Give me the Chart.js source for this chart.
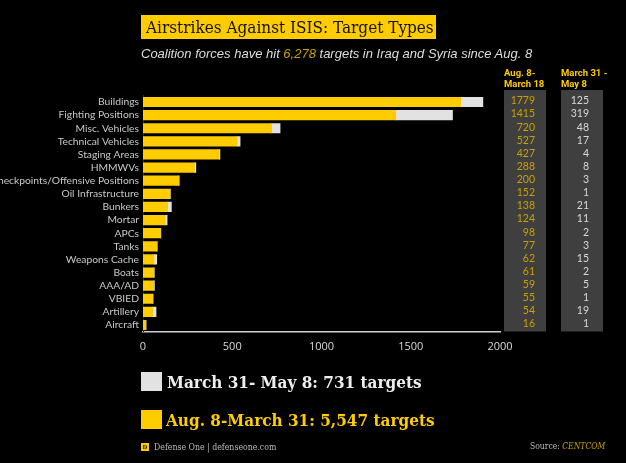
<!DOCTYPE html>
<html><head><meta charset="utf-8">
<style>
html,body{margin:0;padding:0;background:#000;width:626px;height:463px;overflow:hidden}
#c{position:absolute;left:0;top:0;width:626px;height:463px}
.t{position:absolute;white-space:nowrap;line-height:1}
.sq{position:absolute}
</style></head><body>
<canvas id="c" width="626" height="463"></canvas>
<div class="sq" style="left:141px;top:15px;width:295px;height:24px;background:#ffcc00"></div>
<div class="t" style="left:146px;top:17px;font:400 17px/20px 'DejaVu Serif Condensed','DejaVu Serif';color:#111">Airstrikes Against ISIS: Target Types</div>
<div class="t" style="left:141px;top:46px;font:italic 400 13px/15px 'Liberation Sans';color:#ddd">Coalition forces have hit <span style="color:#c9a000">6,278</span> targets in Iraq and Syria since Aug. 8</div>
<div class="t" style="left:504px;top:68px;font:700 9.5px/10.5px Roboto;color:#ffcc00">Aug. 8-<br>March 18</div>
<div class="t" style="left:561px;top:68px;font:700 9.5px/10.5px Roboto;color:#ffcc00">March 31 -<br>May 8</div>
<div class="sq" style="left:141px;top:372px;width:21px;height:19px;background:#e2e2e2"></div>
<div class="t" style="left:167px;top:372px;font:700 17px/20px 'DejaVu Serif Condensed','DejaVu Serif';color:#eee">March 31- May 8: 731 targets</div>
<div class="sq" style="left:141px;top:410px;width:21px;height:19px;background:#ffcc00"></div>
<div class="t" style="left:166px;top:410px;font:700 17px/20px 'DejaVu Serif Condensed','DejaVu Serif';color:#ffcc00">Aug. 8-March 31: 5,547 targets</div>
<div class="sq" style="left:141px;top:443px;width:8px;height:8px;background:#ffcc00"></div>
<div class="t" style="left:141px;top:443px;width:8px;text-align:center;font:700 5.5px/8px 'DejaVu Serif';color:#111">D</div>
<div class="t" style="left:154px;top:441px;font:400 8.7px/12px 'DejaVu Serif Condensed','DejaVu Serif';color:#bbb">Defense One | defenseone.com</div>
<div class="t" style="left:530px;top:440px;font:400 8.5px/12px 'DejaVu Serif Condensed','DejaVu Serif';color:#bbb">Source: <i style="color:#c9a000">CENTCOM</i></div>
<script src="https://cdn.jsdelivr.net/npm/chart.js@4/dist/chart.umd.min.js"></script>
<script>
const categories=["Buildings","Fighting Positions","Misc. Vehicles","Technical Vehicles","Staging Areas","HMMWVs","Checkpoints/Offensive Positions","Oil Infrastructure","Bunkers","Mortar","APCs","Tanks","Weapons Cache","Boats","AAA/AD","VBIED","Artillery","Aircraft"];
const firstPeriod=[1779,1415,720,527,427,288,200,152,138,124,98,77,62,61,59,55,54,16];
const secondPeriod=[125,319,48,17,4,8,3,1,21,11,2,3,15,2,5,1,19,1];
const xTicks=[0,500,1000,1500,2000];

const columnsPlugin={
  id:'columns',
  beforeDatasetsDraw(chart){
    const ctx=chart.ctx;
    ctx.save();
    ctx.fillStyle='#3f3f3f';
    ctx.fillRect(504,90,42,241.5);
    ctx.fillRect(561,90,42,241.5);
    ctx.restore();
  },
  afterDraw(chart){
    const ctx=chart.ctx,y=chart.scales.y;
    ctx.save();
    ctx.font="400 10.5px Lato";
    ctx.textAlign='right';
    ctx.textBaseline='middle';
    categories.forEach((c,i)=>{
      const py=y.getPixelForValue(i)-1;
      ctx.fillStyle='#c9a000';
      ctx.fillText(String(firstPeriod[i]),535,py);
      ctx.fillStyle='#d8d8d8';
      ctx.fillText(String(secondPeriod[i]),589,py);
    });
    ctx.restore();
  }
};

new Chart(document.getElementById('c'),{
  type:'bar',
  data:{labels:categories,datasets:[
    {label:'Aug. 8-March 18',data:firstPeriod,backgroundColor:'#ffcc00',barThickness:9.5,stack:'a'},
    {label:'March 31 - May 8',data:secondPeriod,backgroundColor:'#e2e2e2',barThickness:9.5,stack:'a'}
  ]},
  plugins:[columnsPlugin],
  options:{
    indexAxis:'y',
    responsive:false,
    animation:false,
    devicePixelRatio:1,
    layout:{padding:{top:95.4,right:126,left:0,bottom:0}},
    plugins:{legend:{display:false},title:{display:false},tooltip:{enabled:false}},
    scales:{
      x:{
        stacked:true,min:0,max:2000,
        afterFit(s){s.height=131.4},
        afterBuildTicks(s){s.ticks=xTicks.map(v=>({value:v}))},
        grid:{display:false,drawTicks:false},
        border:{display:true,color:'#cfcfcf',width:1.5},
        ticks:{color:'#d8d8d8',padding:9,maxRotation:0,callback:v=>String(v),font:{family:'Open Sans',size:11}}
      },
      y:{
        stacked:true,
        afterFit(s){s.width=143},
        grid:{display:false,drawTicks:false},
        border:{display:true,color:'#2a2a2a'},
        ticks:{color:'#c8c8c8',padding:4,autoSkip:false,font:{family:'Lato',size:10.3}}
      }
    }
  }
});
</script>
</body></html>
